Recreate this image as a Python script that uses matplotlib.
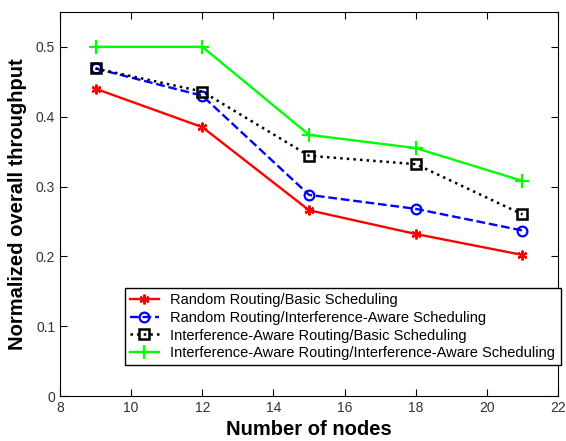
import matplotlib
matplotlib.use("Agg")
import matplotlib.pyplot as plt

plt.rcParams['font.family'] = ['Liberation Sans', 'DejaVu Sans']

nodes = [9, 12, 15, 18, 21]
rr_basic = [0.440, 0.385, 0.266, 0.232, 0.202]
rr_ia = [0.469, 0.430, 0.288, 0.268, 0.237]
iar_basic = [0.469, 0.436, 0.344, 0.332, 0.260]
iar_ia = [0.500, 0.500, 0.374, 0.355, 0.308]
labels = ['Random Routing/Basic Scheduling',
          'Random Routing/Interference-Aware Scheduling',
          'Interference-Aware Routing/Basic Scheduling',
          'Interference-Aware Routing/Interference-Aware Scheduling']

fig = plt.figure(figsize=(5.66, 4.41), dpi=100)
ax = fig.add_axes([0.106, 0.102, 0.880, 0.871])

ax.plot(nodes, rr_basic, color='#ff0000', ls='-', lw=1.7, marker=(6, 2, 0), ms=7, mew=1.6, label=labels[0])
ax.plot(nodes, rr_ia, color='#0000ff', ls='--', lw=1.7, marker='o', ms=7, mfc='none', mew=1.6, label=labels[1])
ax.plot(nodes, iar_basic, color='black', ls=':', lw=1.8, marker='s', ms=7, mfc='none', mew=1.8, label=labels[2])
ax.plot(nodes, iar_ia, color='#00ff00', ls='-', lw=1.7, marker='+', ms=10, mew=1.6, label=labels[3])

ax.set_xlim(8, 22)
ax.set_ylim(0, 0.55)
ax.set_xticks([8, 10, 12, 14, 16, 18, 20, 22])
ax.set_yticks([0, 0.1, 0.2, 0.3, 0.4, 0.5])
ax.set_yticklabels(['0', '0.1', '0.2', '0.3', '0.4', '0.5'])
ax.tick_params(direction='in', top=True, right=True, labelsize=10, labelcolor='#333333', length=5)

ax.set_xlabel('Number of nodes', fontsize=14.5, fontweight='bold', labelpad=4)
ax.set_ylabel('Normalized overall throughput', fontsize=14.5, fontweight='bold', labelpad=6)

leg = ax.legend(loc='lower right', bbox_to_anchor=(1.005, 0.08), fontsize=10.5, frameon=True,
                fancybox=False, edgecolor='black', framealpha=1, borderpad=0.35,
                labelspacing=0.25, handlelength=2.0, handletextpad=0.8, borderaxespad=0)
leg.get_frame().set_linewidth(1.0)

fig.savefig('out.png', dpi=100)
